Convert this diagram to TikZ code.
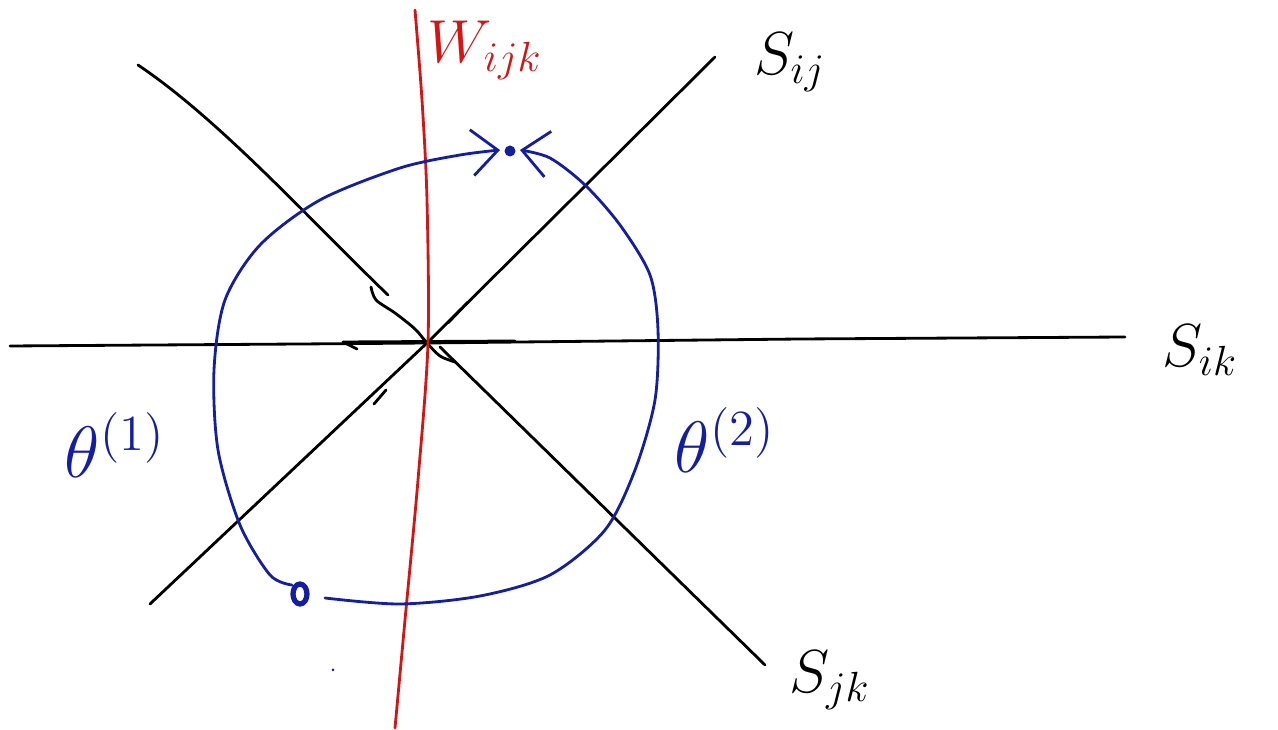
\documentclass[tikz,border=0pt]{standalone}
\usetikzlibrary{arrows.meta}
\definecolor{penblue}{RGB}{20,30,160}
\definecolor{penred}{RGB}{215,20,20}
\begin{document}
\begin{tikzpicture}[line cap=round, line join=round,
    wall/.style={thick, black},
    wpath/.style={thick, penblue},
    tip/.style={-{Straight Barb[length=2.6mm, width=4.6mm]}}]
            \useasboundingbox (0,0) rectangle (12.78,7.30);
            \coordinate (O) at (4.27,3.87);
            \coordinate (P1) at (3.00,1.36);
            \coordinate (P2) at (5.10,5.79);

            % the three walls through O
            \draw[wall] (1.50,1.26) -- (O) -- (7.15,6.73);
            \draw[wall] (0.10,3.84) -- (3.00,3.86) -- (O) -- (8.00,3.91) -- (11.25,3.93);
            \draw[wall] (1.38,6.65) .. controls (2.20,6.10) and (3.10,5.10) .. (3.88,4.35);
            \draw[wall] (4.40,3.83) -- (7.65,0.65);
            \draw[wall] plot[smooth] coordinates {(3.71,4.43) (3.76,4.30) (3.95,4.17) (4.15,4.01) (O) (4.40,3.74) (4.55,3.68)};
            \draw[wall] (3.43,3.88) -- (5.15,3.89);
            \draw[wall] (3.43,3.88) -- (3.57,3.81);
            \draw[wall] (4.48,4.07) -- (4.68,4.28);
            \draw[wall] (3.74,3.26) -- (3.86,3.40);

            \draw[thick, penred] plot[smooth] coordinates {(4.15,7.20) (4.22,6.30) (4.27,5.30) (4.28,3.87) (4.18,2.50) (4.05,1.10) (3.95,0.02)};

            % the two paths from P1 to P2
            \draw[penblue, line width=1.5pt] (P1) ellipse (0.07 and 0.10);
            \fill[penblue] (P2) circle (0.055);
            \draw[wpath, tip] plot[smooth] coordinates {(2.92,1.45) (2.70,1.55) (2.40,2.05) (2.18,2.80) (2.14,3.60) (2.25,4.30) (2.60,4.85) (3.20,5.30) (4.00,5.62) (4.60,5.75) (5.00,5.80)};
            \draw[wpath, tip] plot[smooth] coordinates {(3.25,1.32) (4.00,1.26) (4.80,1.34) (5.50,1.55) (6.05,2.00) (6.35,2.60) (6.55,3.30) (6.58,4.00) (6.50,4.55) (6.20,5.05) (5.85,5.45) (5.50,5.72) (5.20,5.80)};
            \fill[penblue] (3.33,0.60) circle (0.015);

            \node (Sij) at (7.90,6.68) {\LARGE $S_{ij}$};
            \node (Sik) at (12.00,3.80) {\LARGE $S_{ik}$};
            \node (Sjk) at (8.30,0.50) {\LARGE $S_{jk}$};
            \node[penred] (Wijk) at (4.85,6.80) {\LARGE $W_{ijk}$};
            \node[penblue] (th1) at (1.15,2.85) {\huge $\theta^{(1)}$};
            \node[penblue] (th2) at (7.25,2.90) {\huge $\theta^{(2)}$};
        \end{tikzpicture}
\end{document}
